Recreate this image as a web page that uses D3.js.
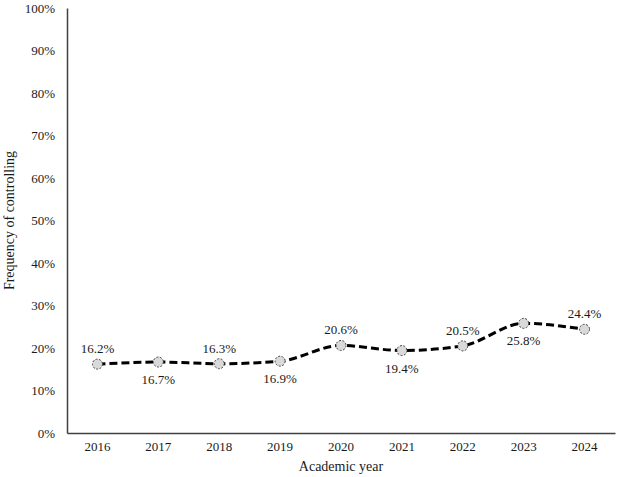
<!DOCTYPE html>
<html>
<head>
<meta charset="utf-8">
<script src="https://cdn.jsdelivr.net/npm/d3@7"></script>
<style>
  body { margin: 0; background: #fff; }
  svg { display: block; font-family: "Liberation Serif", "Times New Roman", serif; }
</style>
</head>
<body>
<div id="wrapper"></div>
<script>
// data
const years = ["2016", "2017", "2018", "2019", "2020", "2021", "2022", "2023", "2024"];
const frequency = [16.2, 16.7, 16.3, 16.9, 20.6, 19.4, 20.5, 25.8, 24.4];
const labelAbove = [true, false, true, false, true, false, true, false, true];
const yTicks = [0, 10, 20, 30, 40, 50, 60, 70, 80, 90, 100];

const dimensions = {
    width: 630,
    height: 477,
    margin: { top: 8, right: 15, bottom: 44, left: 67 },
};
dimensions.boundedWidth = dimensions.width - dimensions.margin.left - dimensions.margin.right;
dimensions.boundedHeight = dimensions.height - dimensions.margin.top - dimensions.margin.bottom;

const wrapper = d3.select("#wrapper")
    .append("svg")
    .attr("width", dimensions.width)
    .attr("height", dimensions.height);

const bounds = wrapper.append("g")
    .attr("transform", `translate(${dimensions.margin.left},${dimensions.margin.top})`);

const xScaler = d3.scaleBand()
    .domain(years)
    .range([0, dimensions.boundedWidth]);

const yScaler = d3.scaleLinear()
    .domain([0, 100])
    .range([dimensions.boundedHeight, 0]);

// y axis
const yAxis = bounds.append("g")
    .call(d3.axisLeft(yScaler).tickValues(yTicks).tickSize(0).tickPadding(12).tickFormat(d => d + "%"));
yAxis.select(".domain").attr("stroke", "#404040").attr("stroke-width", 1.5);
yAxis.selectAll("text")
    .style("font-size", "13px")
    .style("font-family", "Liberation Serif")
    .attr("fill", "#1a1a1a");

// x axis
const xAxis = bounds.append("g")
    .attr("transform", `translate(0,${dimensions.boundedHeight})`)
    .call(d3.axisBottom(xScaler).tickSize(0).tickPadding(9));
xAxis.select(".domain").attr("stroke", "#404040").attr("stroke-width", 1.5);
xAxis.selectAll("text")
    .style("font-size", "13px")
    .style("font-family", "Liberation Serif")
    .attr("fill", "#1a1a1a");

// axis titles
wrapper.append("text")
    .attr("x", dimensions.margin.left + dimensions.boundedWidth / 2)
    .attr("y", 471)
    .attr("text-anchor", "middle")
    .attr("font-size", "14px")
    .attr("fill", "#1a1a1a")
    .text("Academic year");

wrapper.append("text")
    .attr("transform", `translate(14,${dimensions.margin.top + dimensions.boundedHeight / 2}) rotate(-90)`)
    .attr("text-anchor", "middle")
    .attr("font-size", "14px")
    .attr("fill", "#1a1a1a")
    .text("Frequency of controlling");

const xAccessor = (d, i) => xScaler(years[i]) + xScaler.bandwidth() / 2;
const yAccessor = d => yScaler(d);

// the line
const lineGen = d3.line()
    .x(xAccessor)
    .y(yAccessor)
    .curve(d3.curveMonotoneX);

bounds.append("path")
    .datum(frequency)
    .attr("d", lineGen)
    .attr("fill", "none")
    .attr("stroke", "#000")
    .attr("stroke-width", 3)
    .attr("stroke-dasharray", "8,4");

// markers
bounds.append("g")
    .selectAll("circle")
    .data(frequency)
    .enter()
    .append("circle")
    .attr("cx", xAccessor)
    .attr("cy", yAccessor)
    .attr("r", 5)
    .attr("fill", "#d9d9d9")
    .attr("stroke", "#404040")
    .attr("stroke-width", 1)
    .attr("stroke-dasharray", "2,1.5");

// data labels
bounds.append("g")
    .selectAll("text")
    .data(frequency)
    .enter()
    .append("text")
    .attr("x", xAccessor)
    .attr("y", (d, i) => yAccessor(d) + (labelAbove[i] ? -11 : 22))
    .attr("text-anchor", "middle")
    .attr("font-size", "13px")
    .attr("fill", "#1a1a1a")
    .text(d => d.toFixed(1) + "%");
</script>
</body>
</html>
